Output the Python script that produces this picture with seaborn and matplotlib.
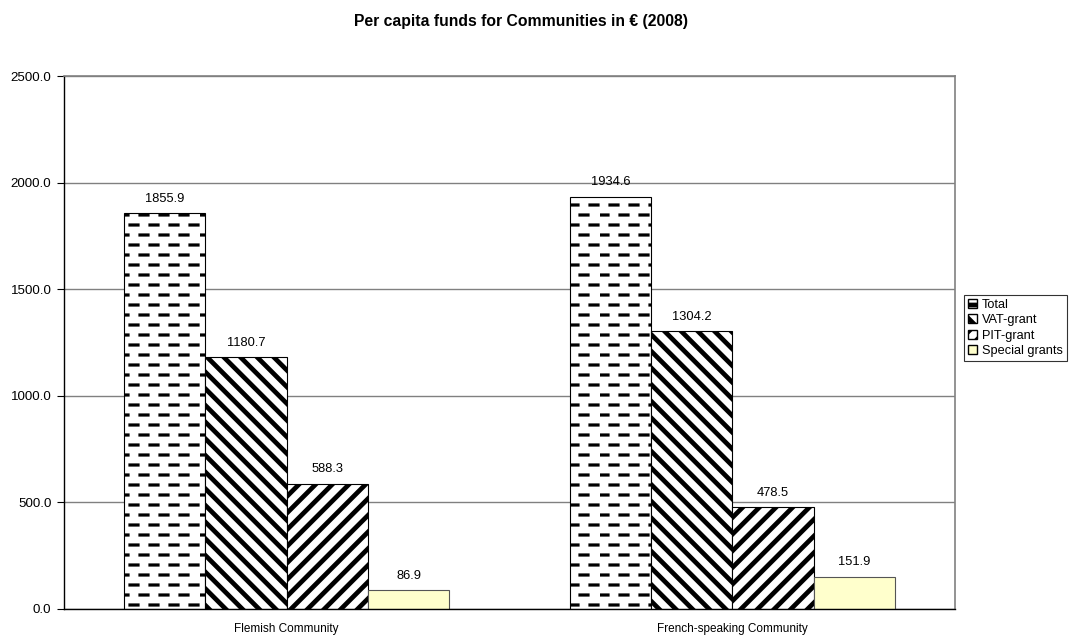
import warnings
import numpy as np
import pandas as pd
import matplotlib
matplotlib.use("Agg")
import matplotlib.pyplot as plt
import matplotlib.patches as mpatches
import matplotlib.hatch as mhatch
from matplotlib.path import Path
import seaborn as sns

warnings.filterwarnings("ignore")

communities = ["Flemish Community", "French-speaking Community"]
funds = ["Total", "VAT-grant", "PIT-grant", "Special grants"]
total = [1855.9, 1934.6]
vat_grant = [1180.7, 1304.2]
pit_grant = [588.3, 478.5]
special_grants = [86.9, 151.9]


# dashed horizontal hatch (like the old Excel pattern), triggered by '_'
class DashedHatch(mhatch.HatchPatternBase):
    rows = 10
    dashes = 5

    def __init__(self, hatch, density):
        self.on = hatch.count('_') > 0
        self.num_vertices = self.rows * self.dashes * 2 if self.on else 0

    def set_vertices_and_codes(self, vertices, codes):
        i = 0
        per = 1.0 / self.dashes
        for r in range(self.rows):
            y = (r + 0.5) / self.rows
            off = 0.0 if r % 2 == 0 else per / 2
            for d in range(self.dashes):
                x0 = off + d * per
                vertices[i] = (x0, y)
                vertices[i + 1] = (x0 + per * 0.4, y)
                codes[i] = Path.MOVETO
                codes[i + 1] = Path.LINETO
                i += 2


mhatch._hatch_types.append(DashedHatch)

rows = []
for name, vals in zip(funds, [total, vat_grant, pit_grant, special_grants]):
    for c, v in zip(communities, vals):
        rows.append({"community": c, "fund": name, "value": v})
df = pd.DataFrame(rows)

sns.set_style("white")
plt.rcParams['font.family'] = ['Liberation Sans', 'DejaVu Sans']
plt.rcParams['hatch.linewidth'] = 3.4
plt.rcParams['text.color'] = 'black'
plt.rcParams['xtick.color'] = 'black'
plt.rcParams['ytick.color'] = 'black'

colors = {"Total": "white", "VAT-grant": "white", "PIT-grant": "white", "Special grants": "#FFFFCC"}
hatches = {"Total": "_", "VAT-grant": "\\\\", "PIT-grant": "//", "Special grants": ""}
hatch_lw = {"Total": 2.3, "VAT-grant": 3.4, "PIT-grant": 3.4, "Special grants": 1.0}

fig = plt.figure(figsize=(10.79, 6.43), dpi=100)
ax = fig.add_axes([0.0593, 0.0529, 0.8258, 0.8289])

sns.barplot(data=df, x="community", y="value", hue="fund", hue_order=funds,
            palette=colors, width=0.73, edgecolor="black", linewidth=0.8,
            saturation=1, legend=False, ax=ax)

for cont, name in zip(ax.containers, funds):
    for bar in cont:
        bar.set_hatch(hatches[name])
        if hasattr(bar, "set_hatch_linewidth"):
            bar.set_hatch_linewidth(hatch_lw[name])
        bar.set_edgecolor("black" if name != "Special grants" else "#555555")
    ax.bar_label(cont, fmt="%.1f", padding=6, fontsize=9.3, color="black")

ax.set_ylim(0, 2500)
ax.set_xlim(-0.5, 1.5)
ax.set_yticks(np.arange(0, 2501, 500))
ax.set_yticklabels([f"{t:.1f}" for t in np.arange(0, 2501, 500)], fontsize=9.6)
ax.set_xticks([0, 1])
ax.set_xticklabels(communities, fontsize=8.5)
ax.set_xticks([-0.5, 0.5, 1.5], minor=True)
ax.tick_params(axis="x", which="major", length=0, pad=10, labelcolor="black")
ax.tick_params(axis="x", which="minor", length=4, width=0.8, color="#555555")
ax.tick_params(axis="y", length=5, width=0.8, left=True, color="black", labelcolor="black", pad=4)
ax.set_xlabel("")
ax.set_ylabel("")

ax.yaxis.grid(True, color="#808080", linewidth=1)
ax.set_axisbelow(True)
for s in ["top", "right"]:
    ax.spines[s].set_color("#808080")
    ax.spines[s].set_linewidth(1.2)
for s in ["left", "bottom"]:
    ax.spines[s].set_color("black")
    ax.spines[s].set_linewidth(1)

handles = [mpatches.Patch(facecolor=colors[f], edgecolor="black", hatch=hatches[f], label=f) for f in funds]
leg = fig.legend(handles=handles, loc="center left", bbox_to_anchor=(0.893, 0.49),
                 fontsize=9.2, frameon=True, fancybox=False, edgecolor="black",
                 handlelength=0.7, handleheight=0.7, handletextpad=0.4,
                 borderpad=0.35, labelspacing=0.25, borderaxespad=0)
leg.get_frame().set_linewidth(0.8)
for t in leg.get_texts():
    t.set_color("black")

fig.suptitle("Per capita funds for Communities in € (2008)", fontsize=11.3,
             fontweight="bold", x=0.483, y=0.978, color="black")

fig.savefig("out.png", dpi=100)
